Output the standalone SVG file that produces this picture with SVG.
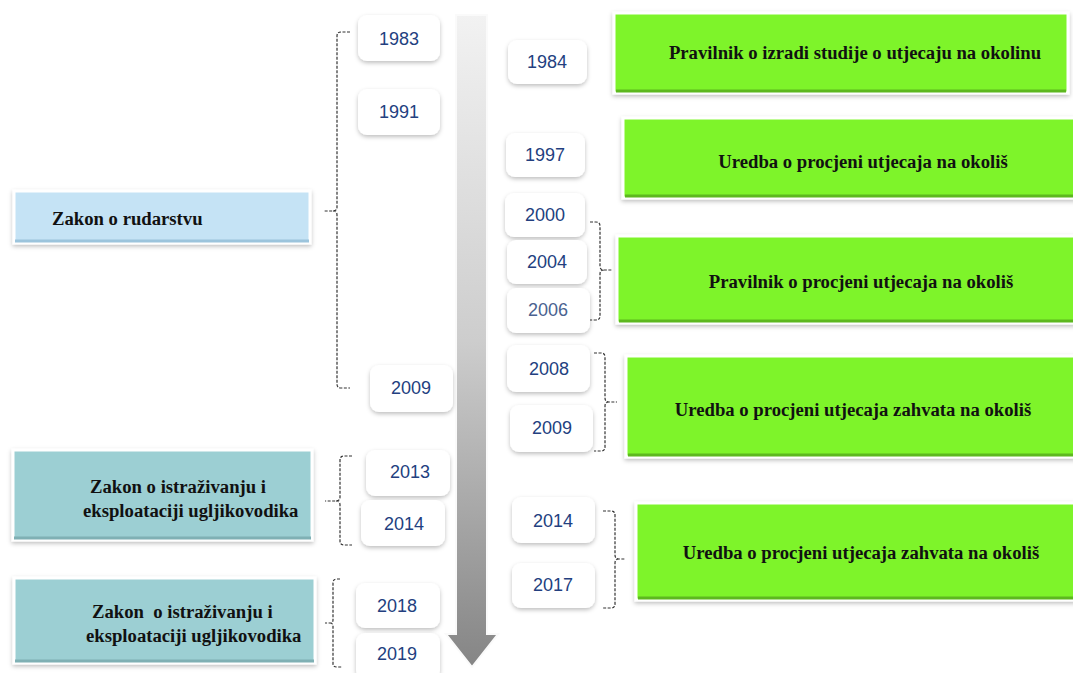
<svg xmlns="http://www.w3.org/2000/svg" width="1073" height="673" viewBox="0 0 1073 673">
<defs>
<filter id="sh" x="-10%" y="-20%" width="120%" height="150%">
<feDropShadow dx="0" dy="2" stdDeviation="2" flood-color="#000" flood-opacity="0.25"/>
</filter>
<linearGradient id="arr" x1="0" y1="0" x2="0" y2="1">
<stop offset="0" stop-color="#f2f2f2"/>
<stop offset="0.5" stop-color="#cdcdcd"/>
<stop offset="1" stop-color="#858585"/>
</linearGradient>
<style>
.yr{fill:#fff;filter:url(#sh)}
.yt{font-family:"Liberation Sans",Arial,sans-serif;font-size:18px;fill:#233f7f;text-anchor:middle}
.gr{fill:#7ef42a;stroke:#fff;stroke-width:3;filter:url(#sh)}
.gb{fill:none;stroke:#5db81f;stroke-width:3}
.bl{fill:#c5e3f5;stroke:#fff;stroke-width:3;filter:url(#sh)}
.tl{fill:#9ccfd3;stroke:#fff;stroke-width:3;filter:url(#sh)}
.lt{font-family:"Liberation Serif","Times New Roman",serif;font-size:18.7px;font-weight:bold;fill:#111}
.br{fill:none;stroke:#333;stroke-width:1.2;stroke-dasharray:3 1.5}
</style>
</defs>
<rect width="1073" height="673" fill="#fff"/>

<g id="timeline-arrow">
<path d="M456,15 H487 V634 H498 L472,667 L446,634 H456 Z" fill="url(#arr)" stroke="#fafafa" stroke-width="2"/>
</g>

<g id="connectors">
<path class="br" d="M350,32 H341 Q337,32 337,36 V207 Q337,211 333,211 H324 M333,211 Q337,211 337,215 V384 Q337,388 341,388 H350"/>
<path class="br" d="M352,456 H344 Q340,456 340,460 V497 Q340,501 336,501 H325 M336,501 Q340,501 340,505 V541 Q340,545 344,545 H352"/>
<path class="br" d="M340,579 H337 Q333,579 333,583 V620 Q333,623 330,623 H325 M330,623 Q333,623 333,626 V664 Q333,667 337,667 H342"/>
<path class="br" d="M590,222 H596 Q600,222 600,226 V266 Q600,270 604,270 H612 M604,270 Q600,270 600,274 V316 Q600,320 596,320 H590"/>
<path class="br" d="M594,353 H601 Q605,353 605,357 V398 Q605,402 609,402 H617 M609,402 Q605,402 605,406 V447 Q605,451 601,451 H594"/>
<path class="br" d="M603,511 H611 Q615,511 615,515 V555 Q615,559 619,559 H625 M619,559 Q615,559 615,563 V604 Q615,608 611,608 H603"/>
</g>

<g id="node-zakon-rudarstvu">
<rect class="bl" x="14" y="191" width="296" height="52"/>
<path d="M15,241 H309" stroke="#9cc4dc" stroke-width="3"/>
<text class="lt" x="52" y="225">Zakon o rudarstvu</text>
</g>
<g id="node-zakon-istrazivanju-1">
<rect class="tl" x="13" y="450" width="299" height="90"/>
<path d="M14,538 H311" stroke="#7fb0b4" stroke-width="3"/>
<text class="lt" x="90" y="493">Zakon o istraživanju i</text>
<text class="lt" x="83" y="517">eksploataciji ugljikovodika</text>
</g>
<g id="node-zakon-istrazivanju-2">
<rect class="tl" x="14" y="578" width="301" height="85"/>
<path d="M15,661 H314" stroke="#7fb0b4" stroke-width="3"/>
<text class="lt" x="92" y="618" xml:space="preserve">Zakon  o istraživanju i</text>
<text class="lt" x="86" y="642">eksploataciji ugljikovodika</text>
</g>

<g id="node-pravilnik-izradi">
<rect class="gr" x="614" y="13" width="454" height="80"/>
<path d="M616,91 H1066" class="gb"/>
<text class="lt" x="855" y="59" text-anchor="middle">Pravilnik o izradi studije o utjecaju na okolinu</text>
</g>
<g id="node-uredba-1997">
<rect class="gr" x="623" y="118" width="452" height="80"/>
<path d="M625,196 H1073" class="gb"/>
<text class="lt" x="863" y="168" text-anchor="middle">Uredba o procjeni utjecaja na okoliš</text>
</g>
<g id="node-pravilnik-procjeni">
<rect class="gr" x="617" y="236" width="458" height="87"/>
<path d="M619,321 H1073" class="gb"/>
<text class="lt" x="861" y="288" text-anchor="middle">Pravilnik o procjeni utjecaja na okoliš</text>
</g>
<g id="node-uredba-2008">
<rect class="gr" x="626" y="356" width="449" height="101"/>
<path d="M628,455 H1073" class="gb"/>
<text class="lt" x="853" y="416" text-anchor="middle">Uredba o procjeni utjecaja zahvata na okoliš</text>
</g>
<g id="node-uredba-2014">
<rect class="gr" x="636" y="503" width="439" height="97"/>
<path d="M638,598 H1073" class="gb"/>
<text class="lt" x="861" y="559" text-anchor="middle">Uredba o procjeni utjecaja zahvata na okoliš</text>
</g>

<g id="year-1983"><rect class="yr" x="358" y="15" width="82" height="46" rx="9"/><text class="yt" x="399" y="45">1983</text></g>
<g id="year-1991"><rect class="yr" x="358" y="89" width="82" height="46" rx="9"/><text class="yt" x="399" y="118">1991</text></g>
<g id="year-2009-left"><rect class="yr" x="370" y="365" width="83" height="47" rx="9"/><text class="yt" x="411" y="394">2009</text></g>
<g id="year-2013"><rect class="yr" x="366" y="450" width="84" height="46" rx="9"/><text class="yt" x="410" y="478">2013</text></g>
<g id="year-2014-left"><rect class="yr" x="361" y="500" width="84" height="46" rx="9"/><text class="yt" x="404" y="530">2014</text></g>
<g id="year-2018"><rect class="yr" x="356" y="583" width="84" height="45" rx="9"/><text class="yt" x="397" y="612">2018</text></g>
<g id="year-2019"><rect class="yr" x="356" y="633" width="84" height="46" rx="9"/><text class="yt" x="397" y="660">2019</text></g>

<g id="year-1984"><rect class="yr" x="508" y="40" width="79" height="44" rx="9"/><text class="yt" x="547" y="68">1984</text></g>
<g id="year-1997"><rect class="yr" x="506" y="133" width="79" height="44" rx="9"/><text class="yt" x="545" y="161">1997</text></g>
<g id="year-2000"><rect class="yr" x="505" y="193" width="80" height="44" rx="9"/><text class="yt" x="545" y="221">2000</text></g>
<g id="year-2004"><rect class="yr" x="507" y="240" width="80" height="44" rx="9"/><text class="yt" x="547" y="268">2004</text></g>
<g id="year-2006"><rect class="yr" x="507" y="288" width="83" height="45" rx="9"/><text class="yt" x="548" y="316" style="fill:#4a6290">2006</text></g>
<g id="year-2008"><rect class="yr" x="507" y="345" width="83" height="47" rx="9"/><text class="yt" x="549" y="375">2008</text></g>
<g id="year-2009-right"><rect class="yr" x="510" y="405" width="83" height="47" rx="9"/><text class="yt" x="552" y="434">2009</text></g>
<g id="year-2014-right"><rect class="yr" x="512" y="497" width="83" height="46" rx="9"/><text class="yt" x="553" y="527">2014</text></g>
<g id="year-2017"><rect class="yr" x="512" y="563" width="83" height="45" rx="9"/><text class="yt" x="553" y="591">2017</text></g>
</svg>
